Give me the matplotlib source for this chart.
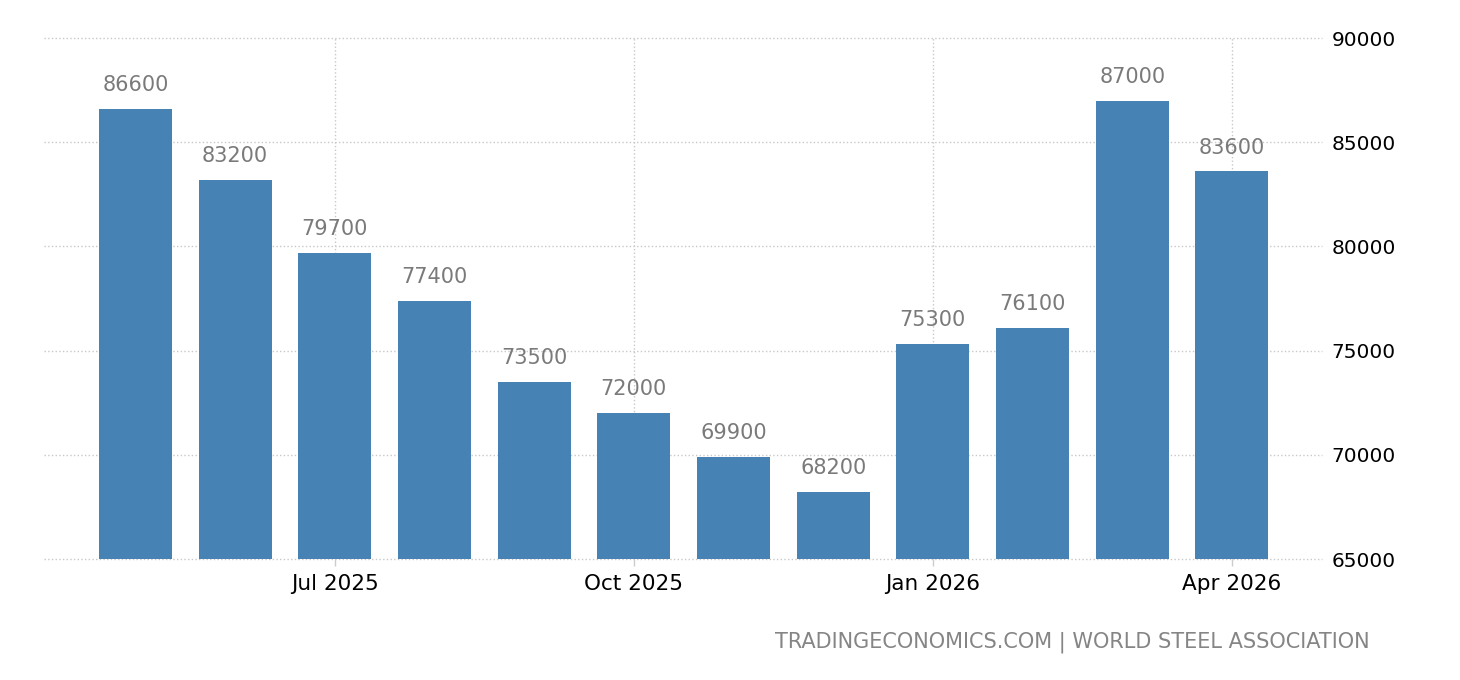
import numpy as np
import matplotlib.pyplot as plt

months = ["May 2025", "Jun 2025", "Jul 2025", "Aug 2025", "Sep 2025", "Oct 2025",
          "Nov 2025", "Dec 2025", "Jan 2026", "Feb 2026", "Mar 2026", "Apr 2026"]
values = [86600, 83200, 79700, 77400, 73500, 72000, 69900, 68200, 75300, 76100, 87000, 83600]
tick_labels = ["Jul 2025", "Oct 2025", "Jan 2026", "Apr 2026"]
y_ticks = [65000, 70000, 75000, 80000, 85000, 90000]

plt.rcParams['font.family'] = ['DejaVu Sans']

fig = plt.figure(figsize=(14.6, 6.8), dpi=100)
ax = fig.add_axes([0.0301, 0.1779, 0.8753, 0.7662])

x = np.arange(len(months))
ax.bar(x, values, width=0.732, color='#4682B4', zorder=2)

for xi, v in zip(x, values):
    ax.annotate(str(v), (xi, v), xytext=(0, 10), textcoords='offset points',
                ha='center', va='bottom', fontsize=15, color='#7a7a7a')

ax.set_xlim(-0.918, 11.903)
ax.set_ylim(65000, 90000)

tick_pos = [months.index(t) for t in tick_labels]
ax.set_xticks(tick_pos)
ax.set_xticklabels(tick_labels, fontsize=15.5, color='black')
ax.tick_params(axis='x', length=5, color='#cccccc', width=1, pad=6)

ax.yaxis.tick_right()
ax.set_yticks(y_ticks)
ax.set_yticklabels([str(t) for t in y_ticks], fontsize=14.5, color='black')
ax.tick_params(axis='y', length=0, pad=7)

ax.grid(True, linestyle=':', color='#c8c8c8', linewidth=1, zorder=0)
for gl in ax.get_xgridlines() + ax.get_ygridlines():
    gl.set_clip_on(False)
ax.set_axisbelow(True)
for s in ax.spines.values():
    s.set_visible(False)

fig.text(1370/1460, 1 - 642/680, "TRADINGECONOMICS.COM | WORLD STEEL ASSOCIATION",
         ha='right', va='center', fontsize=15, color='#858585')

fig.savefig("out.png", dpi=100)
